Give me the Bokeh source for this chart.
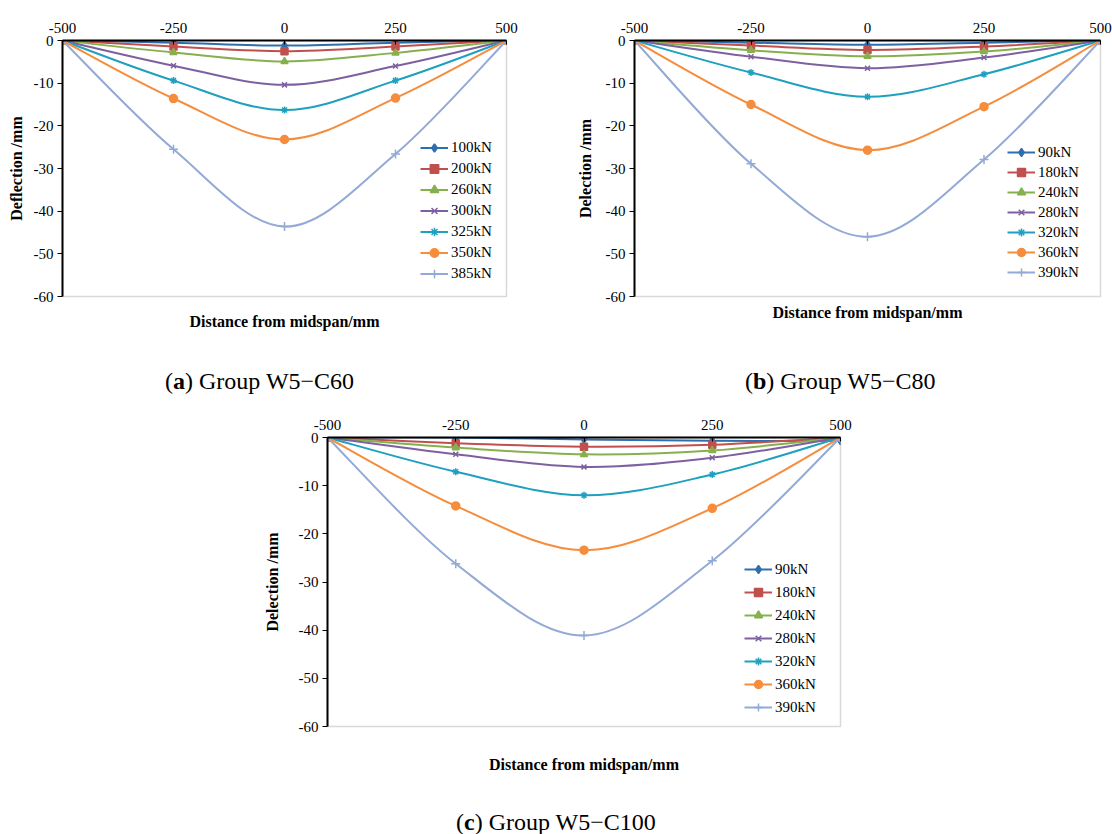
from bokeh.plotting import figure
from bokeh.models import Range1d, LinearAxis, FixedTicker, Legend, LegendItem, Div, Spacer
from bokeh.layouts import column, row
from bokeh.embed import file_html
from bokeh.resources import INLINE

# ---------------- data ----------------
x_pos = [-500, -250, 0, 250, 500]
x_ticks = [-500, -250, 0, 250, 500]
y_ticks = [0, -10, -20, -30, -40, -50, -60]

# (a) Group W5-C60
a_loads = ["100kN", "200kN", "260kN", "300kN", "325kN", "350kN", "385kN"]
a_100 = [0, -0.5, -1.2, -0.5, 0]
a_200 = [0, -1.4, -2.5, -1.4, 0]
a_260 = [0, -2.8, -4.9, -2.9, 0]
a_300 = [0, -5.9, -10.4, -6.0, 0]
a_325 = [0, -9.4, -16.3, -9.4, 0]
a_350 = [0, -13.6, -23.2, -13.5, 0]
a_385 = [0, -25.5, -43.6, -26.6, 0]

# (b) Group W5-C80
b_loads = ["90kN", "180kN", "240kN", "280kN", "320kN", "360kN", "390kN"]
b_90 = [0, -0.5, -1.0, -0.5, 0]
b_180 = [0, -1.2, -2.2, -1.4, 0]
b_240 = [0, -2.3, -3.7, -2.6, 0]
b_280 = [0, -3.8, -6.5, -4.0, 0]
b_320 = [0, -7.5, -13.2, -7.9, 0]
b_360 = [0, -15.0, -25.7, -15.5, 0]
b_390 = [0, -28.9, -46.0, -27.9, 0]

# (c) Group W5-C100
c_loads = ["90kN", "180kN", "240kN", "280kN", "320kN", "360kN", "390kN"]
c_90 = [0, 0, -0.4, -0.7, -0.7]
c_180 = [0, -1.2, -1.9, -1.5, 0]
c_240 = [0, -2.1, -3.5, -2.7, 0]
c_280 = [0, -3.5, -6.1, -4.2, 0]
c_320 = [0, -7.1, -12.0, -7.7, 0]
c_360 = [0, -14.2, -23.4, -14.7, 0]
c_390 = [0, -26.2, -41.1, -25.6, 0]

colors = ["#2F6EAF", "#C0504D", "#86B04E", "#7E60A0", "#1FA0BE", "#F68D3D", "#93A9D6"]
markers = ["diamond", "square", "triangle", "x", "asterisk", "circle", "cross"]
msizes = [8, 7, 7, 7, 7, 8, 9]

FONT = "Liberation Serif"


def smooth_segments(xs, ys):
    """Bezier control points for a smoothed line through the data points."""
    n = len(xs)
    seg = dict(x0=[], y0=[], x1=[], y1=[], cx0=[], cy0=[], cx1=[], cy1=[])
    for i in range(n - 1):
        i0 = max(i - 1, 0)
        i3 = min(i + 2, n - 1)
        seg["x0"].append(xs[i]); seg["y0"].append(ys[i])
        seg["x1"].append(xs[i + 1]); seg["y1"].append(ys[i + 1])
        seg["cx0"].append(xs[i] + (xs[i + 1] - xs[i0]) / 6.0)
        seg["cy0"].append(ys[i] + (ys[i + 1] - ys[i0]) / 6.0)
        seg["cx1"].append(xs[i + 1] - (xs[i3] - xs[i]) / 6.0)
        seg["cy1"].append(ys[i + 1] - (ys[i3] - ys[i]) / 6.0)
    return seg


def make_panel(loads, series, ylabel, width, height, borders, ylab_standoff,
               xlab_standoff, legend_loc, item_h, legend_spacing):
    bl, br, bt, bb = borders
    p = figure(width=width, height=height, output_backend="svg", toolbar_location=None,
               x_range=Range1d(-500, 500), y_range=Range1d(-60, 0),
               x_axis_location="above", min_border_left=bl, min_border_right=br,
               min_border_top=bt, min_border_bottom=bb)
    p.grid.visible = False
    p.outline_line_color = "#D9D9D9"
    p.outline_line_width = 1.5
    p.background_fill_color = "white"
    p.border_fill_color = "white"

    xa = p.xaxis[0]
    xa.ticker = FixedTicker(ticks=x_ticks)
    xa.major_label_overrides = {t: str(t) for t in x_ticks}
    xa.major_tick_in = 4
    xa.major_tick_out = 0
    xa.minor_tick_line_color = None
    xa.axis_line_width = 2
    xa.axis_line_color = "black"
    xa.major_label_standoff = 8
    xa.major_label_text_font = FONT
    xa.major_label_text_font_size = "15px"
    xa.major_label_text_color = "black"

    ya = p.yaxis[0]
    ya.ticker = FixedTicker(ticks=y_ticks)
    ya.major_label_overrides = {t: str(t) for t in y_ticks}
    ya.major_tick_in = 0
    ya.major_tick_out = 5
    ya.minor_tick_line_color = None
    ya.axis_line_width = 2
    ya.axis_line_color = "black"
    ya.major_label_standoff = 4
    ya.major_label_text_font = FONT
    ya.major_label_text_font_size = "15px"
    ya.major_label_text_color = "black"
    ya.axis_label = ylabel
    ya.axis_label_text_font = FONT
    ya.axis_label_text_font_style = "bold"
    ya.axis_label_text_font_size = "16px"
    ya.axis_label_text_color = "black"
    ya.axis_label_standoff = ylab_standoff

    xb = LinearAxis(ticker=FixedTicker(ticks=[]), axis_label="Distance from midspan/mm",
                    axis_line_color=None, major_tick_line_color=None,
                    minor_tick_line_color=None, major_label_text_font_size="0px",
                    axis_label_text_font=FONT, axis_label_text_font_style="bold",
                    axis_label_text_font_size="16px", axis_label_text_color="black",
                    axis_label_standoff=xlab_standoff)
    p.add_layout(xb, "below")

    items = []
    for i, (lab, ys) in enumerate(zip(loads, series)):
        seg = smooth_segments(x_pos, ys)
        rb = p.bezier(source=seg, x0="x0", y0="y0", x1="x1", y1="y1",
                      cx0="cx0", cy0="cy0", cx1="cx1", cy1="cy1",
                      line_color=colors[i], line_width=2)
        rs = p.scatter(x_pos, ys, marker=markers[i], size=msizes[i],
                       fill_color=colors[i], line_color=colors[i], line_width=1.5)
        items.append(LegendItem(label=lab, renderers=[rb, rs]))

    leg = Legend(items=items, location=legend_loc, glyph_width=28, glyph_height=item_h,
                 label_height=item_h, spacing=legend_spacing, padding=0, margin=0,
                 border_line_color=None, background_fill_alpha=0,
                 label_text_font=FONT, label_text_font_size="15px",
                 label_text_color="black", label_standoff=3)
    p.add_layout(leg)
    return p


fa = make_panel(a_loads, [a_100, a_200, a_260, a_300, a_325, a_350, a_385],
                "Deflection /mm", 560, 340, (62, 54, 40, 38), 6, 16, (358, 12), 21, 0)
fb = make_panel(b_loads, [b_90, b_180, b_240, b_280, b_320, b_360, b_390],
                "Delection /mm", 552, 340, (74, 12, 39, 44), 9, 7, (373, 14), 20, 0)
fc = make_panel(c_loads, [c_90, c_180, c_240, c_280, c_320, c_360, c_390],
                "Delection /mm", 600, 390, (65, 20, 37, 64), 15, 29, (417, 9), 20, 3)

cap_style = "position:absolute;white-space:nowrap;font-family:'Liberation Serif',serif;font-size:24px;color:#000;line-height:26px;"
cap1 = Div(width=1112, height=60, margin=0, text=(
    '<div style="position:relative;width:1112px;height:60px;">'
    f'<span style="{cap_style}left:165px;top:28px;">(<b>a</b>) Group W5\u2212C60</span>'
    f'<span style="{cap_style}left:745px;top:28px;">(<b>b</b>) Group W5\u2212C80</span>'
    '</div>'))
cap2 = Div(width=1112, height=44, margin=0, text=(
    '<div style="position:relative;width:1112px;height:44px;">'
    f'<span style="{cap_style}left:456px;top:19px;">(<b>c</b>) Group W5\u2212C100</span>'
    '</div>'))

layout = column(row(fa, fb), cap1, row(Spacer(width=260, height=390), fc), cap2)

open("out.html", "w").write(file_html(layout, INLINE, "Deflection"))
